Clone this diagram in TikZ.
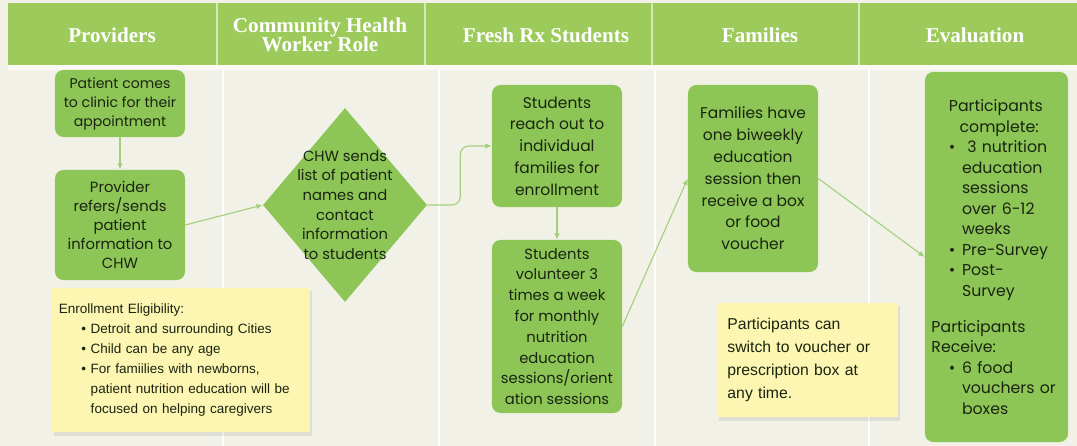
\documentclass[tikz,border=0pt]{standalone}
\usepackage{fontspec}
\setmainfont{Poppins}
\newfontfamily\headfont{Liberation Serif}
\newfontfamily\notefont{Liberation Sans}
\usepackage{xcolor}
\usepackage{tikz}
\usetikzlibrary{shapes.geometric,arrows.meta,positioning}

\definecolor{bgcream}{HTML}{F2F1E8}
\definecolor{headgreen}{HTML}{9CCB5B}
\definecolor{boxgreen}{HTML}{8DC556}
\definecolor{boxtext}{HTML}{1A2511}
\definecolor{flowgreen}{HTML}{A5D07B}
\definecolor{noteyellow}{HTML}{FDF6B2}

\newcommand{\evbullet}{\hspace*{12.4pt}\makebox[9.3pt][l]{\textbullet}}
\newcommand{\evcont}{\hspace*{21.7pt}}
\newcommand{\enbullet}{\hspace*{16pt}\makebox[6.6pt][l]{\textbullet}}
\newcommand{\encont}{\hspace*{22.6pt}}

\tikzset{
  stepbox/.style={rectangle, rounded corners=6pt, fill=boxgreen, text=boxtext, align=center, inner sep=0pt},
  notebox/.style={rectangle, fill=noteyellow, text=boxtext, align=left, inner sep=0pt,
    font=\notefont},
  headtext/.style={text=white, align=center, font=\headfont\bfseries\fontsize{15}{15.5}\selectfont},
  flow/.style={draw=flowgreen, line width=0.8pt, -{Latex[length=4.5pt,width=4pt]}},
}

\begin{document}
\begin{tikzpicture}[x=0.025cm, y=-0.025cm]
    \useasboundingbox (0,0) rectangle (1077,446);
    \fill[bgcream] (0,0) rectangle (1077,446);

    % Header
    \fill[headgreen] (8,3) rectangle (1077,65);
    \fill[white!60!bgcream] (8,65) rectangle (1077,70);
    \foreach \xh in {217,425,652,859}
        \draw[white!55!headgreen, line width=0.8pt] (\xh,3) -- (\xh,65);
    \foreach \xb in {223,439,655,869}
        \draw[white, line width=0.8pt] (\xb,70) -- (\xb,446);
    \node[headtext] (hprov) at (112,35) {Providers};
    \node[headtext] (hchw) at (320,35) {Community Health\\[-2pt]Worker Role};
    \node[headtext] (hfresh) at (546,35) {Fresh Rx Students};
    \node[headtext] (hfam) at (760,35) {Families};
    \node[headtext] (heval) at (975,35) {Evaluation};

    % Providers
    \node[stepbox, minimum width=3.25cm, minimum height=1.675cm, font=\fontsize{10}{13.5}\selectfont]
        (patient) at (120,103.5) {Patient comes\\to clinic for their\\appointment};
    \node[stepbox, minimum width=3.25cm, minimum height=2.75cm, font=\fontsize{10.5}{13.5}\selectfont]
        (provider) at (120,225) {Provider\\refers/sends\\patient\\information to\\CHW};

    % Community health worker
    \node[diamond, fill=boxgreen, minimum width=4.1cm, minimum height=4.85cm, inner sep=0pt]
        (chw) at (345,205) {};
    \node[text=boxtext, align=center, font=\fontsize{10.5}{14}\selectfont] (chwtext) at (chw.center)
        {CHW sends\\list of patient\\names and\\contact\\information\\to students};

    % Fresh Rx students
    \node[stepbox, minimum width=3.25cm, minimum height=3.05cm, font=\fontsize{11}{15.5}\selectfont]
        (reach) at (557,146) {Students\\reach out to\\individual\\families for\\enrollment};
    \node[stepbox, minimum width=3.25cm, minimum height=4.325cm, font=\fontsize{10.5}{14.8}\selectfont]
        (volunteer) at (557,326.5) {Students\\volunteer 3\\times a week\\for monthly\\nutrition\\education\\sessions/orient\\ation sessions};

    % Families
    \node[stepbox, minimum width=3.25cm, minimum height=4.675cm, font=\fontsize{11}{15.5}\selectfont]
        (families) at (753,178.5) {Families have\\one biweekly\\education\\session then\\receive a box\\or food\\voucher};

    % Evaluation
    \node[stepbox, minimum width=3.575cm, minimum height=9.25cm, text width=3.25cm, align=left,
        font=\fontsize{11.2}{14.6}\selectfont]
        (evaluation) at (996.5,257) {%
        \hspace*{12.4pt}Participants\\
        \hspace*{20pt}complete:\\
        \evbullet\ 3 nutrition\\
        \evcont education\\
        \evcont sessions\\
        \evcont over 6-12\\
        \evcont weeks\\
        \evbullet Pre-Survey\\
        \evbullet Post-\\
        \evcont Survey\\[11pt]
        Participants\\
        Receive:\\
        \evbullet 6 food\\
        \evcont vouchers or\\
        \evcont boxes\\[6pt]};

    % Notes
    \fill[black, opacity=0.08] (54,291) rectangle (312,436);
    \node[notebox, minimum width=6.45cm, minimum height=3.6cm, text width=6.1cm,
        font=\notefont\fontsize{9.6}{14.2}\selectfont]
        (eligibility) at (181,360) {%
        Enrollment Eligibility:\\
        \enbullet Detroit and surrounding Cities\\
        \enbullet Child can be any age\\
        \enbullet For famiilies with newborns,\\
        \encont patient nutrition education will be\\
        \encont focused on helping caregivers};
    \fill[black, opacity=0.08] (719,306) rectangle (900,421);
    \node[notebox, minimum width=4.525cm, minimum height=2.85cm, text width=4cm,
        font=\notefont\fontsize{11.2}{16.3}\selectfont]
        (switch) at (807.5,360) {Participants can\\switch to voucher or\\prescription box at\\any time.};

    % Connectors
    \draw[flow] (patient) -- (provider);
    \draw[flow] (provider.east) -- (chw.west);
    \draw[flow, rounded corners=6pt] (chw.east) -- ++(33,0) |- (reach.west);
    \draw[flow] (reach) -- (volunteer);
    \draw[flow] (volunteer.east) -- (families.west);
    \draw[flow] (families.east) -- (evaluation.west);
\end{tikzpicture}
\end{document}
